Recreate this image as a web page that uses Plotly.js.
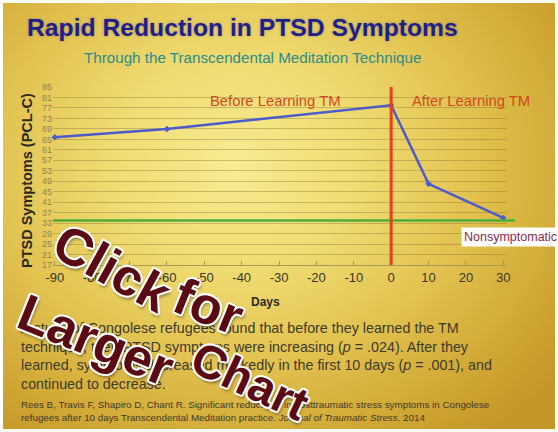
<!DOCTYPE html>
<html>
<head>
<meta charset="utf-8">
<script src="https://cdn.plot.ly/plotly-3.0.1.min.js"></script>
<style>
  html, body { margin:0; padding:0; width:558px; height:432px; overflow:hidden; background:#ffffff; }
  #bg { position:absolute; left:3px; top:3px; width:552px; height:426px;
        background: radial-gradient(ellipse 75% 80% at 42% 38%, #f7ec92 0%, #f0dc72 30%, #e2c250 58%, #cfa532 85%, #c39628 100%); }
  #chart { position:absolute; left:0; top:0; width:558px; height:432px; }
</style>
</head>
<body>
<div id="bg"></div>
<div id="chart"></div>
<script>
// ---- data ----
const days = [-90, -60, 0, 10, 30];
const pclScores = [65.8, 69, 78, 48, 35];
const nonsymptomaticLevel = 34;
const learnDay = 0;
const xTickVals = [-90, -80, -70, -60, -50, -40, -30, -20, -10, 0, 10, 20, 30];
const yTickVals = [17, 21, 25, 29, 33, 37, 41, 45, 49, 53, 57, 61, 65, 69, 73, 77, 81, 85];

const titleText = 'Rapid Reduction in PTSD Symptoms';
const subtitleText = 'Through the Transcendental Meditation Technique';
const beforeText = 'Before Learning TM';
const afterText = 'After Learning TM';
const thresholdText = 'Nonsymptomatic';
const yTitle = 'PTSD Symptoms (PCL-C)';
const xTitle = 'Days';
const bodyText = 'A study of Congolese refugees found that before they learned the TM<br>' +
  'technique, their PTSD symptoms were increasing (<i>p</i> = .024). After they<br>' +
  'learned, symptoms decreased markedly in the first 10 days (<i>p</i> = .001), and<br>' +
  'continued to decrease.';
const citeText = 'Rees B, Travis F, Shapiro D, Chant R. Significant reductions in posttraumatic stress symptoms in Congolese<br>' +
  'refugees after 10 days Transcendental Meditation practice. <i>Journal of Traumatic Stress</i>. 2014';

// ---- layout helpers (pixel -> paper) ----
const W = 558, H = 432, ML = 53, MR = 51, MT = 87, MB = 167;
const PW = W - ML - MR, PH = H - MT - MB;
const px = x => (x - ML) / PW;
const py = y => (H - MB - y) / PH;

const FONT = 'Liberation Sans, Arial, sans-serif';
const stroke = 'white 2px 0px 0px, white -2px 0px 0px, white 0px 2px 0px, white 0px -2px 0px, white 1.5px 1.5px 0px, white -1.5px -1.5px 0px, white 1.5px -1.5px 0px, white -1.5px 1.5px 0px, rgba(0,0,0,0.35) 3px 3px 3px';
const clickFont = {family: FONT, size: 52, color: '#5a0a12', weight: 'bold', shadow: stroke};
const chartFont = Object.assign({}, clickFont, {size: 47});

function note(text, x, y, font, extra) {
  return Object.assign({text: text, xref: 'paper', yref: 'paper', x: px(x), y: py(y),
    xanchor: 'center', yanchor: 'middle', showarrow: false, font: font}, extra || {});
}

const trace = {
  x: days, y: pclScores, type: 'scatter', mode: 'lines+markers',
  line: {color: '#4b5bcc', width: 2.5},
  marker: {color: '#4b5bcc', size: 5, symbol: 'diamond'},
  hoverinfo: 'skip', showlegend: false, cliponaxis: false
};

const layout = {
  width: W, height: H,
  margin: {l: ML, r: MR, t: MT, b: MB},
  paper_bgcolor: 'rgba(0,0,0,0)', plot_bgcolor: 'rgba(0,0,0,0)',
  showlegend: false,
  xaxis: {
    range: [-90.5, 31], tickvals: xTickVals, ticktext: xTickVals.map(String),
    showgrid: false, zeroline: false, showline: true, linecolor: '#a89858', linewidth: 1,
    ticks: 'inside', ticklen: 4, tickcolor: '#a89858',
    tickfont: {family: FONT, size: 13, color: '#3a3628'}, fixedrange: true
  },
  yaxis: {
    range: [17, 85], tickvals: yTickVals, ticktext: yTickVals.map(String),
    showgrid: true, gridcolor: 'rgba(130,110,50,0.38)', gridwidth: 1,
    zeroline: false, showline: false, ticks: '',
    tickfont: {family: FONT, size: 9, color: '#8f8258'}, fixedrange: true
  },
  shapes: [
    {type: 'line', xref: 'paper', yref: 'y', x0: 0, x1: px(515), y0: nonsymptomaticLevel, y1: nonsymptomaticLevel,
     line: {color: '#4cae3c', width: 2.5}},
    {type: 'line', xref: 'x', yref: 'y', x0: learnDay, x1: learnDay, y0: 17, y1: 85,
     line: {color: '#e2431a', width: 3}}
  ],
  annotations: [
    note(titleText, 242, 28, {family: FONT, size: 24.7, color: '#1f1f8c', weight: 'bold', shadow: 'rgba(40,40,120,0.35) 0px 0px 3px'}),
    note(subtitleText, 252, 58, {family: FONT, size: 15.2, color: '#2b8c8a'}),
    note(beforeText, 275, 101, {family: FONT, size: 14.8, color: '#d2481e'}),
    note(afterText, 471, 101, {family: FONT, size: 14.8, color: '#d2481e'}),
    note(thresholdText, 461, 237, {family: FONT, size: 12.5, color: '#8b2a50'}, {xanchor: 'left', bgcolor: '#ffffff', borderpad: 2}),
    note('<b>' + yTitle + '</b>', 27, 181, {family: FONT, size: 14.5, color: '#2c2a20'}, {textangle: -90}),
    note('<b>' + xTitle + '</b>', 265, 302, {family: FONT, size: 12, color: '#2c2a20'}),
    note(bodyText, 19, 356, {family: FONT, size: 14.3, color: '#3d3a2c'}, {xanchor: 'left', align: 'left'}),
    note(citeText, 19, 411, {family: FONT, size: 9.8, color: '#3d3a2c'}, {xanchor: 'left', align: 'left'}),
    note('Click', 112, 268, clickFont, {textangle: 29}),
    note('for', 208, 306, clickFont, {textangle: 22}),
    note('Larger', 96, 340, clickFont, {textangle: 22}),
    note('Chart', 250, 380, chartFont, {textangle: 25})
  ]
};

Plotly.newPlot('chart', [trace], layout, {staticPlot: true, displayModeBar: false});
</script>
</body>
</html>
